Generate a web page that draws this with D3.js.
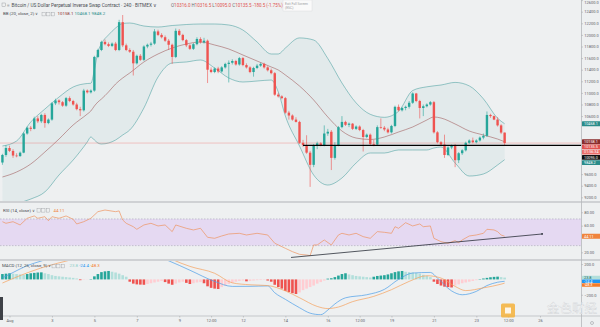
<!DOCTYPE html>
<html><head><meta charset="utf-8">
<script src="https://cdn.jsdelivr.net/npm/d3@7/dist/d3.min.js"></script>
<style>
html,body{margin:0;padding:0;background:#eef0f1;overflow:hidden;}
svg{display:block;font-family:Roboto,"Noto Sans",sans-serif;}
</style></head><body>
<svg id="chart" width="600" height="327"></svg>
<script>
// ---------------- data ----------------
const firstBar = Date.UTC(2019, 6, 31, 16); // first 4H candle (UTC)
const barHours = 4;
const opens = [9800,9930,10050,10000,9920,9910,9970,10300,10400,10380,10560,10510,10620,10480,10540,10820,10870,10840,10780,10910,10860,10800,10720,10700,11040,11010,11040,11620,11740,11880,11840,11810,11850,11740,12220,11820,11740,11710,11510,11640,11570,11800,11830,11850,12060,12000,11960,11900,11830,11620,12070,12000,11910,11820,11760,11840,11930,11870,11900,11400,11360,11420,11370,11440,11500,11520,11550,11490,11600,11480,11440,11360,11430,11470,11500,11440,11390,11340,10970,10940,10910,10660,10610,10540,10500,10140,10100,9970,9760,10090,10130,10100,10300,10330,9880,10100,10410,10500,10450,10470,10380,10420,10360,10240,10280,10120,10110,10410,10400,10370,10320,10430,10760,10700,10740,10760,10830,10990,10860,10740,10770,10800,10840,10320,10150,10110,9930,10060,10090,9840,9960,10010,10140,10180,10150,10180,10230,10260,10620,10600,10540,10440,10316.0];
const highs = [9950,10100,10090,10030,9960,9990,10320,10420,10430,10590,10600,10640,10650,10560,10840,10900,10890,10860,10930,10940,10880,10830,10760,11070,11060,11060,11640,11760,11900,11920,11870,11870,11880,12260,12343,11850,11770,11740,11660,11670,11820,11850,11880,12100,12090,12030,11990,11930,11850,12110,12100,12020,11930,11840,11860,11960,11960,11950,11920,11440,11440,11450,11460,11520,11560,11580,11570,11620,11620,11510,11460,11450,11500,11520,11520,11460,11420,11360,11000,10960,10930,10690,10630,10580,10520,10190,10270,10000,10120,10160,10150,10440,10380,10360,10150,10430,10600,10520,10490,10480,10440,10440,10380,10300,10300,10190,10440,10560,10430,10400,10450,10780,10800,10760,10780,10860,11010,11000,10880,10800,10820,10860,10860,10340,10170,10280,10080,10110,10120,9980,10030,10160,10200,10230,10200,10250,10300,10680,10640,10610,10580,10460,10316.5];
const lows = [9760,9900,9980,9880,9890,9900,9960,10280,10340,10370,10480,10480,10400,10460,10520,10790,10800,10760,10760,10840,10780,10700,10600,10680,10990,10990,11020,11600,11720,11820,11790,11790,11720,11720,11790,11720,11690,11300,11490,11550,11550,11770,11800,11830,11980,11940,11880,11740,11500,11600,11980,11890,11790,11740,11740,11820,11850,11850,11170,11340,11340,11340,11350,11420,11180,11490,11470,11470,11460,11420,11340,11280,11410,11450,11420,11370,11320,10950,10920,10890,10640,10540,10520,10490,10120,10070,9950,9380,9720,10030,10080,10080,10260,9670,9850,10080,10390,10430,10410,10360,10360,10340,9990,10220,10090,10080,10090,10380,10340,10300,10300,10410,10680,10680,10700,10730,10810,10840,10560,10600,10750,10780,10300,10130,10090,9880,9910,10030,9720,9790,9930,9990,10120,10130,10130,10160,10200,10240,10570,10530,10420,10290,10095.0];
const closes = [9930,10050,10000,9920,9910,9970,10300,10400,10380,10560,10510,10620,10480,10540,10820,10870,10840,10780,10910,10860,10800,10720,10700,11040,11010,11040,11620,11740,11880,11840,11810,11850,11740,12220,11820,11740,11710,11510,11640,11570,11800,11830,11850,12060,12000,11960,11900,11830,11620,12070,12000,11910,11820,11760,11840,11930,11870,11900,11400,11360,11420,11370,11440,11500,11520,11550,11490,11600,11480,11440,11360,11430,11470,11500,11440,11390,11340,10970,10940,10910,10660,10610,10540,10500,10140,10100,9970,9760,10090,10130,10100,10300,10330,9880,10100,10410,10500,10450,10470,10380,10420,10360,10240,10280,10120,10110,10410,10400,10370,10320,10430,10760,10700,10740,10760,10830,10990,10860,10740,10770,10800,10840,10320,10150,10110,9930,10060,10090,9840,9960,10010,10140,10180,10150,10180,10230,10260,10620,10600,10540,10440,10316,10135.5];

const bbIdx   = [0,4,8,12,16,20,24,25,26,27,28,30,32,34,36,40,44,48,52,56,60,64,68,72,76,78,80,84,88,92,96,100,104,108,112,116,120,122,124,128,132,136,140,142];
const bbUpper = [10085,10171,10498,10722,10929,11102,11162,11166,11395,11705,11850,12000,12119,12197,12205,12153,12136,12162,12179,12188,12188,12171,12084,11878,11671,11671,11774,11948,11912,11593,11171,10828,10631,10579,10683,11041,11105,11122,11136,11181,11121,10898,10564,10468.1];
const bbBasis = [9550,9636,9774,9981,10205,10447,10636,10688,10774,10843,10895,11016,11154,11257,11343,11533,11671,11774,11843,11878,11826,11757,11653,11550,11447,11395,11309,11119,10878,10585,10343,10222,10197,10240,10326,10412,10533,10585,10567,10464,10343,10274,10205,10158.1];
const bbLower = [8981,9085,9170,9292,9585,9843,10154,10240,10188,10136,10119,10136,10188,10274,10360,10740,11274,11516,11533,11567,11429,11257,11188,11205,11222,11016,10602,10085,9585,9412,9533,9792,9964,9964,10016,10016,10016,10050,10067,9792,9567,9602,9757,9848.2];

const rsiIdx  = [0,1,3,5,7,9,10,12,13,14,16,18,20,21,23,25,27,29,32,33,34,35,37,38,40,42,44,46,48,49,52,54,56,58,60,62,64,67,69,72,75,77,80,82,84,86,87,88,89,91,93,95,96,98,100,102,104,106,108,110,111,112,114,116,118,119,121,122,124,126,128,129,130,132,134,136,137,139,140,141,142];
const rsiVals = [65.9,63.5,65.9,61,71,74.5,71,73.4,67.4,73.4,71,74.5,69.5,62.5,65.9,71,80.9,83.4,80.9,82,68.5,63.5,58.4,54.5,61,63.5,59.5,61,51,61,56,53.5,56,42.5,41,44.5,47.5,48.5,46,48.5,46,33.6,26,21,17,16,15,31,31,38.5,31,46,48.5,46,48.5,43.5,41,51,50,48.5,58.4,56,64.4,59.5,62.5,58.4,59.5,41,36,33.6,37.5,34.5,38.5,44.5,46,48.5,54.5,53.5,51,46,44.11];

const macdIdx  = [0,3,7,11,15,26,36,42,47,53,60,65,70,75,77,80,84,87,90,92,94,97,103,108,112,116,121,123,127,130,134,137,140,142];
const macdVals = [20,90,180,240,300,380,400,330,243,120,-26,-91,-90,-85,-174,-260,-369,-440,-460,-400,-320,-240,-200,-130,0,83,91,18,-150,-200,-156,-80,-37,-24.4];
const signalIdx  = [0,5,11,19,28,36,45,48,53,60,65,70,75,80,84,89,92,95,99,105,110,115,120,124,128,131,136,141,142];
const signalVals = [-47,50,150,250,330,380,330,260,170,80,-45,-70,-80,-150,-239,-352,-380,-360,-290,-221,-134,-26,48,18,-91,-146,-110,-62,-48.3];
const histVals = [70,75,80, 75,70,65,60, 70,80,85,90,92, 80,70,55, 45,40,35,30,25,20,12, -10,-4,-2,5, 40,70,95,105,110, 100,90,75,55,35, -30,-55,-65,-68,-70, -60,-50,-40,-30,-20, -35,-55,-70, -55,-40,-30, -45,-60, -50,-40,-35, -50,-90,-110,-120,-125, -100,-80,-60,-45,-30,-20, -15,-25, -20,-15,-10,-8,-5, -15,-30,-70,-100,-120,-150,-165,-180,-190, -170,-140, -120,-100,-80,-55,-35,-15, 10,15, 30,50,70,80, 65,55,45,40,35,30,25, 35,45,50,55, 65,80,95,105,110, 100,95,90,85,75,60,45,30, -30,-60,-80,-95,-100,-105, -80,-65,-50,-40,-30,-20,-10, 5,12,20,28,33,36, 30,23.8];

const hLineLevel = 10095.0, hLineStartIdx = 85;
const rsiTrendIdx = [81.6, 152.6], rsiTrendVals = [12.3, 47.5];
const countdownText = "01:56:34";

const tickDates = [[7,1,0],[7,3,0],[7,5,0],[7,7,0],[7,9,0],[7,10,12],[7,12,0],[7,14,0],[7,16,0],[7,17,12],[7,19,0],[7,21,0],[7,23,0],[7,24,12],[7,26,0]].map(d=>new Date(Date.UTC(2019,d[0],d[1],d[2])));
const tickLabels = ["Aug","3","5","7","9","12:00","12","14","16","12:00","19","21","23","12:00","26"];
const priceTicks = [12600,12400,12200,12000,11800,11600,11400,11200,11000,10800,10600,10400,10200,10000,9800,9600,9400,9200];
const rsiTicks = [80,60,40,20];
const macdTicks = [200,0,-200];

// ---------------- layout ----------------
const PR = 581;
const svg = d3.select('#chart');
const day = 864e5, aug1 = Date.UTC(2019,7,1);
const x = d3.scaleUtc().domain([new Date(aug1-0.4477*day), new Date(aug1+26.932*day)]).range([0,PR]);
const tOf = i => new Date(firstBar + i*barHours*3600e3);
const yP = d3.scaleLinear().domain([9136.5,12601.7]).range([201,0]);
const yR = d3.scaleLinear().domain([8.5,95.4]).range([260,202]);
const yM = d3.scaleLinear().domain([-477,240]).range([316,261]);
const up = '#26a69a', down = '#ef5350';
const axisCol = '#5d6066';

svg.append('rect').attr('width',600).attr('height',327).attr('fill','#eef0f1');
const defs = svg.append('defs');
[['cMain',0,0,PR,201],['cRsi',0,203,PR,56],['cMacd',0,261,PR,54.5]].forEach(c=>{
  defs.append('clipPath').attr('id',c[0]).append('rect').attr('x',c[1]).attr('y',c[2]).attr('width',c[3]).attr('height',c[4]);
});

// ---- main pane ----
const gm = svg.append('g').attr('clip-path','url(#cMain)');
const bx = k => x(tOf(bbIdx[k]));
gm.append('path').datum(d3.range(bbIdx.length))
  .attr('d', d3.area().x(bx).y0(k=>yP(bbLower[k])).y1(k=>yP(bbUpper[k])).curve(d3.curveMonotoneX))
  .attr('fill','rgba(25,135,135,0.05)');
[[bbUpper,'#138484'],[bbLower,'#138484'],[bbBasis,'#872323']].forEach(s=>{
  gm.append('path').datum(d3.range(bbIdx.length))
    .attr('d', d3.line().x(bx).y(k=>yP(s[0][k])).curve(d3.curveMonotoneX))
    .attr('fill','none').attr('stroke',s[1]).attr('stroke-opacity',0.6).attr('stroke-width',0.7);
});
const lastC = closes[closes.length-1];
gm.append('line').attr('x1',0).attr('x2',PR).attr('y1',yP(lastC)).attr('y2',yP(lastC))
  .attr('stroke','#ef5350').attr('stroke-opacity',0.5).attr('stroke-width',0.6);
const bars = d3.range(closes.length);
gm.selectAll('line.wick').data(bars).join('line').attr('class','wick')
  .attr('x1',i=>x(tOf(i))).attr('x2',i=>x(tOf(i)))
  .attr('y1',i=>yP(highs[i])).attr('y2',i=>yP(lows[i]))
  .attr('stroke',i=>closes[i]>=opens[i]?up:down).attr('stroke-width',0.6);
gm.selectAll('rect.body').data(bars).join('rect').attr('class','body')
  .attr('x',i=>x(tOf(i))-1.2).attr('width',2.4)
  .attr('y',i=>yP(Math.max(opens[i],closes[i])))
  .attr('height',i=>Math.max(0.7,Math.abs(yP(opens[i])-yP(closes[i]))))
  .attr('fill',i=>closes[i]>=opens[i]?up:down);
gm.append('line').attr('x1',x(tOf(hLineStartIdx))).attr('x2',PR)
  .attr('y1',yP(hLineLevel)).attr('y2',yP(hLineLevel)).attr('stroke','#000').attr('stroke-width',1.1);

// ---- RSI pane ----
const gr = svg.append('g').attr('clip-path','url(#cRsi)');
gr.append('rect').attr('x',0).attr('width',PR).attr('y',yR(70)).attr('height',yR(30)-yR(70)).attr('fill','rgba(153,21,255,0.1)');
[70,30].forEach(v=>gr.append('line').attr('x1',0).attr('x2',PR).attr('y1',yR(v)).attr('y2',yR(v))
  .attr('stroke','#9a9aa8').attr('stroke-width',0.5).attr('stroke-dasharray','1.5,1.5'));
gr.append('path').datum(d3.range(rsiIdx.length))
  .attr('d',d3.line().x(k=>x(tOf(rsiIdx[k]))).y(k=>yR(rsiVals[k])))
  .attr('fill','none').attr('stroke','#ee9460').attr('stroke-width',0.7);
gr.append('line').attr('x1',x(tOf(rsiTrendIdx[0]))).attr('y1',yR(rsiTrendVals[0]))
  .attr('x2',x(tOf(rsiTrendIdx[1]))).attr('y2',yR(rsiTrendVals[1])).attr('stroke','#2a2e39').attr('stroke-width',0.8);
gr.append('circle').attr('cx',x(tOf(rsiTrendIdx[1]))).attr('cy',yR(rsiTrendVals[1])).attr('r',0.9).attr('fill','#2a2e39');

// ---- MACD pane ----
const gd = svg.append('g').attr('clip-path','url(#cMacd)');
gd.selectAll('rect.h').data(bars).join('rect').attr('class','h')
  .attr('x',i=>x(tOf(i))-1.3).attr('width',2.6)
  .attr('y',i=>yM(Math.max(0,histVals[i]))).attr('height',i=>Math.abs(yM(histVals[i])-yM(0)))
  .attr('fill',i=>{const v=histVals[i],p=i>0?histVals[i-1]:v;
     return v>=0?(v>=p?'#26a69a':'#b2dfdb'):(v<p?'#ef5350':'#ffcdd2');});
gd.append('path').datum(d3.range(macdIdx.length))
  .attr('d',d3.line().x(k=>x(tOf(macdIdx[k]))).y(k=>yM(macdVals[k])).curve(d3.curveMonotoneX))
  .attr('fill','none').attr('stroke','#4a9de8').attr('stroke-width',0.7);
gd.append('path').datum(d3.range(signalIdx.length))
  .attr('d',d3.line().x(k=>x(tOf(signalIdx[k]))).y(k=>yM(signalVals[k])).curve(d3.curveMonotoneX))
  .attr('fill','none').attr('stroke','#f5a05c').attr('stroke-width',0.7);

// ---- separators & axes ----
[[202,1.6],[260,1.6],[316,1]].forEach(s=>svg.append('line').attr('x1',0).attr('x2',600).attr('y1',s[0]).attr('y2',s[0])
  .attr('stroke','#c4c7ca').attr('stroke-width',s[1]));
svg.append('line').attr('x1',PR+0.5).attr('x2',PR+0.5).attr('y1',0).attr('y2',327).attr('stroke','#b5b8bb').attr('stroke-width',0.8);

function stack(tags,h){tags.sort((a,b)=>a.y-b.y);for(let k=1;k<tags.length;k++)tags[k].y=Math.max(tags[k].y,tags[k-1].y+h);return tags;}
const n = closes.length-1;
const mainTags = stack([
  {y:yP(bbUpper[bbUpper.length-1]),t:bbUpper[bbUpper.length-1].toFixed(1),bg:'#2a8c8a',fg:'#fff'},
  {y:yP(bbBasis[bbBasis.length-1]),t:bbBasis[bbBasis.length-1].toFixed(1),bg:'#8a2d2d',fg:'#fff'},
  {y:yP(closes[n]),t:closes[n].toFixed(1),bg:'#e0524f',fg:'#fff'},
  {y:yP(closes[n])+0.01,t:countdownText,bg:'#ea6d69',fg:'#fff'},
  {y:yP(hLineLevel),t:hLineLevel.toFixed(1),bg:'#111',fg:'#fff'},
  {y:yP(bbLower[bbLower.length-1]),t:bbLower[bbLower.length-1].toFixed(1),bg:'#2a8c8a',fg:'#fff'}],5.2);
const rsiTags = [{y:yR(rsiVals[rsiVals.length-1]),t:rsiVals[rsiVals.length-1].toFixed(2),bg:'#f0843c',fg:'#fff'}];
const macdTags = stack([
  {y:yM(histVals[n]),t:histVals[n].toFixed(1),bg:'#b2dfdb',fg:'#20665f'},
  {y:yM(macdVals[macdVals.length-1]),t:macdVals[macdVals.length-1].toFixed(1),bg:'#2196f3',fg:'#fff'},
  {y:yM(signalVals[signalVals.length-1]),t:signalVals[signalVals.length-1].toFixed(1),bg:'#f57c2a',fg:'#fff'}],3.7);

function drawAxis(scale,ticks,fmt,tags,pos){
  const tv = ticks.filter(v=>tags.every(tg=>Math.abs(scale(v)-tg.y)>4.4));
  const g = svg.append('g').attr('transform',`translate(${PR+0.5},0)`)
    .call(d3.axisRight(scale).tickValues(tv).tickFormat(fmt).tickSize(1.5).tickSizeOuter(0).tickPadding(1.2));
  g.select('.domain').remove();
  g.selectAll('line').attr('stroke','#9ea1a5').attr('stroke-width',0.5);
  g.selectAll('text').attr('font-size',4).attr('fill',axisCol).attr('font-family','Roboto,sans-serif')
    .attr('y',d=>Math.max(0, 2.6-scale(d)));
}
drawAxis(yP,priceTicks.filter(v=>yP(v)>=-1&&yP(v)<=200),d3.format('.1f'),mainTags);
drawAxis(yR,rsiTicks,d3.format('.2f'),rsiTags);
drawAxis(yM,macdTicks,d3.format('.1f'),macdTags);
function drawTags(tags,h){
  tags.forEach(tg=>{
    svg.append('rect').attr('x',PR+1).attr('y',tg.y-h/2).attr('width',19).attr('height',h).attr('fill',tg.bg).attr('rx',0.5);
    svg.append('text').attr('x',PR+3).attr('y',tg.y+1.3).attr('font-size',3.8).attr('fill',tg.fg).text(tg.t);
  });
}
drawTags(mainTags,4.8); drawTags(rsiTags,4.8); drawTags(macdTags,3.6);

const gt = svg.append('g').attr('transform','translate(0,316)')
  .call(d3.axisBottom(x).tickValues(tickDates).tickFormat((d,i)=>tickLabels[i]).tickSize(1.5).tickSizeOuter(0).tickPadding(2));
gt.select('.domain').remove();
gt.selectAll('line').attr('stroke','#9ea1a5').attr('stroke-width',0.5);
gt.selectAll('text').attr('font-size',4).attr('fill',axisCol).attr('font-family','Roboto,sans-serif');

// ---- legends ----
function icons(x0,y0){for(let k=0;k<3;k++)svg.append('rect').attr('x',x0+k*4.6).attr('y',y0).attr('width',3.4).attr('height',3.4)
  .attr('fill','none').attr('stroke','#9b9ea3').attr('stroke-width',0.4);}
svg.append('rect').attr('x',2).attr('y',3).attr('width',3.4).attr('height',3.4).attr('fill','none').attr('stroke','#8a8d92').attr('stroke-width',0.4);
svg.append('text').attr('x',7).attr('y',6.8).attr('font-size',4.6).attr('fill','#8a8d92').text('\u2261');
svg.append('text').attr('x',11.5).attr('y',6.8).attr('font-size',4.75).attr('fill','#4a4d52')
  .text('Bitcoin / US Dollar Perpetual Inverse Swap Contract \u00b7 240 \u00b7 BITMEX \u2228');
const ohlc = svg.append('text').attr('x',171).attr('y',6.8).attr('font-size',4.5);
[['O',opens[n].toFixed(1)],['H',highs[n].toFixed(1)],['L',lows[n].toFixed(1)],['C',closes[n].toFixed(1)]].forEach((p,k)=>{
  ohlc.append('tspan').attr('fill','#6a6d72').text((k?'  ':'')+p[0]);
  ohlc.append('tspan').attr('fill','#e0524f').text(p[1]);
});
const chg = closes[n]-closes[n-1];
ohlc.append('tspan').attr('fill','#e0524f').text('  '+chg.toFixed(1)+' ('+(chg/closes[n-1]*100).toFixed(2)+'%)');
svg.append('rect').attr('x',283).attr('y',0).attr('width',29).attr('height',11).attr('fill','#fafafa').attr('stroke','#d5d7da').attr('stroke-width',0.4);
svg.append('text').attr('x',285).attr('y',4.6).attr('font-size',3.4).attr('fill','#9a9da2').text('Exit Full Screen');
svg.append('text').attr('x',285).attr('y',8.8).attr('font-size',3.4).attr('fill','#9a9da2').text('(ESC)');

const bbL = svg.append('text').attr('x',3).attr('y',15.4).attr('font-size',4.4);
bbL.append('tspan').attr('fill','#4a4d52').text('BB (20, close, 2) \u2228');
icons(42,12.5);
const bbV = svg.append('text').attr('x',57.5).attr('y',15.4).attr('font-size',4.4);
bbV.append('tspan').attr('fill','#8a2d2d').text(bbBasis[bbBasis.length-1].toFixed(1));
bbV.append('tspan').attr('fill','#2a8c8a').text('  '+bbUpper[bbUpper.length-1].toFixed(1));
bbV.append('tspan').attr('fill','#2a8c8a').text('  '+bbLower[bbLower.length-1].toFixed(1));

svg.append('text').attr('x',3).attr('y',211.6).attr('font-size',4.4).attr('fill','#4a4d52').text('RSI (14, close) \u2228');
icons(37,208.7);
svg.append('text').attr('x',53.5).attr('y',211.6).attr('font-size',4.4).attr('fill','#f0843c').text(rsiVals[rsiVals.length-1].toFixed(2));

svg.append('text').attr('x',2).attr('y',267.4).attr('font-size',4.4).attr('fill','#4a4d52').text('MACD (12, 26, close, 9) \u2228');
icons(52,264.5);
const mV = svg.append('text').attr('x',69.5).attr('y',267.4).attr('font-size',4.4);
mV.append('tspan').attr('fill','#8fcfc8').text(histVals[n].toFixed(1));
mV.append('tspan').attr('fill','#2196f3').text('  '+macdVals[macdVals.length-1].toFixed(1));
mV.append('tspan').attr('fill','#f57c2a').text('  '+signalVals[signalVals.length-1].toFixed(1));

// ---- misc UI / watermark ----
svg.append('rect').attr('x',0).attr('y',297).attr('width',3).attr('height',23).attr('fill','#3e4147');
svg.append('circle').attr('cx',592).attr('cy',323).attr('r',1.5).attr('fill','none').attr('stroke','#8a8d92').attr('stroke-width',0.5);
svg.append('rect').attr('x',501).attr('y',303.5).attr('width',14).attr('height',14).attr('rx',1.5).attr('fill','#f4b13a').attr('opacity',0.85);
svg.append('rect').attr('x',505).attr('y',307.5).attr('width',6).attr('height',6).attr('fill','#fff').attr('opacity',0.85);
svg.append('text').attr('x',547).attr('y',313).attr('font-size',12.5).attr('font-family','"Noto Sans CJK SC",sans-serif')
  .attr('fill','#ffffff').attr('fill-opacity',0.85).attr('stroke','#c9ccd0').attr('stroke-width',0.3).text('金色财经');
</script>
</body></html>
